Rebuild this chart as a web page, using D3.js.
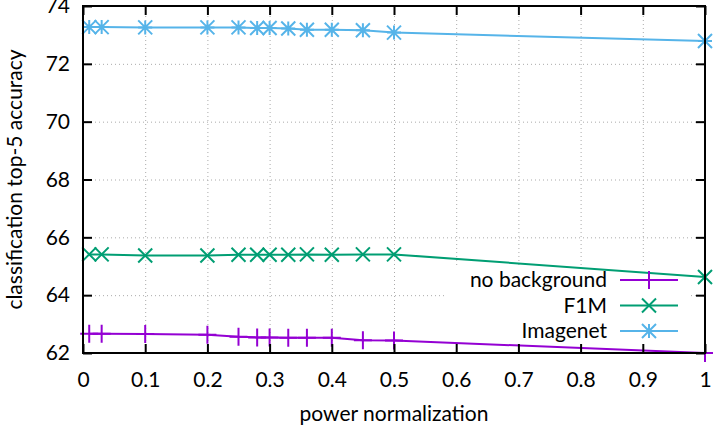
<!DOCTYPE html>
<html>
<head>
<meta charset="utf-8">
<script src="https://cdn.jsdelivr.net/npm/d3@7/dist/d3.min.js"></script>
<style>
  body { margin: 0; background: #fff; }
  svg { display: block; }
  text { font-family: Lato, "Noto Sans", sans-serif; fill: #000; }
</style>
</head>
<body>
<div id="chart"></div>
<script>
// power normalization values (x)
const xValues = [0.01, 0.03, 0.1, 0.2, 0.25, 0.28, 0.3, 0.33, 0.36, 0.4, 0.45, 0.5, 1];

// accuracy per series
const noBackground = [62.67, 62.67, 62.66, 62.63, 62.56, 62.54, 62.54, 62.53, 62.53, 62.53, 62.44, 62.43, 62.0];
const f1m = [65.41, 65.41, 65.37, 65.37, 65.40, 65.40, 65.40, 65.40, 65.41, 65.40, 65.41, 65.41, 64.63];
const imagenet = [73.27, 73.27, 73.26, 73.26, 73.26, 73.24, 73.24, 73.22, 73.18, 73.18, 73.16, 73.08, 72.79];

const xTicks = [0, 0.1, 0.2, 0.3, 0.4, 0.5, 0.6, 0.7, 0.8, 0.9, 1];
const yTicks = [62, 64, 66, 68, 70, 72, 74];

const seriesNames = ['no background', 'F1M', 'Imagenet'];
const seriesColors = ['#9400d3', '#009e73', '#56b4e9'];
const seriesMarkers = ['plus', 'cross', 'star'];

const width = 713, height = 430;
const margin = { top: 6, right: 8, bottom: 77, left: 83 };
const innerWidth = width - margin.left - margin.right;
const innerHeight = height - margin.top - margin.bottom;
const fontSize = '21px';

const svg = d3.select('#chart').append('svg')
    .attr('width', width)
    .attr('height', height);

const g = svg.append('g')
    .attr('transform', `translate(${margin.left},${margin.top})`);

const xScale = d3.scaleLinear().domain([0, 1]).range([0, innerWidth]);
const yScale = d3.scaleLinear().domain([62, 74]).range([innerHeight, 0]);

// grid lines (no labels)
function styleGrid(sel) {
    sel.select('.domain').remove();
    sel.selectAll('text').remove();
    sel.selectAll('line')
        .attr('stroke', '#aaa')
        .attr('stroke-width', 1)
        .attr('stroke-dasharray', '1,3');
}

g.append('g')
    .attr('class', 'grid')
    .attr('transform', `translate(0,${innerHeight})`)
    .call(d3.axisBottom(xScale).tickValues(xTicks).tickSize(-innerHeight).tickFormat(''))
    .call(styleGrid);

g.append('g')
    .attr('class', 'grid')
    .call(d3.axisLeft(yScale).tickValues(yTicks).tickSize(-innerWidth).tickFormat(''))
    .call(styleGrid);

// legend background (key box hides the grid, not the data)
const legendX = 607, legendY = 280, legendStep = 25.5;
g.append('rect')
    .attr('x', 447 - margin.left)
    .attr('y', 266 - margin.top)
    .attr('width', 244)
    .attr('height', 78)
    .attr('fill', '#fff');

// markers
function markerPath(type, s) {
    const p = d3.path();
    if (type === 'plus' || type === 'star') {
        p.moveTo(-s, 0); p.lineTo(s, 0);
        p.moveTo(0, -s); p.lineTo(0, s);
    }
    if (type === 'cross' || type === 'star') {
        p.moveTo(-s, -s); p.lineTo(s, s);
        p.moveTo(-s, s); p.lineTo(s, -s);
    }
    return p.toString();
}

const allSeries = [noBackground, f1m, imagenet];

const line = d3.line()
    .x(d => xScale(d.x))
    .y(d => yScale(d.y));

allSeries.forEach((vals, i) => {
    const pts = xValues.map((x, j) => ({ x: x, y: vals[j] }));
    g.append('path')
        .datum(pts)
        .attr('fill', 'none')
        .attr('stroke', seriesColors[i])
        .attr('stroke-width', 2)
        .attr('d', line);

    g.selectAll(`.mk${i}`)
        .data(pts)
        .enter()
        .append('path')
        .attr('class', `mk${i}`)
        .attr('transform', d => `translate(${xScale(d.x)},${yScale(d.y)})`)
        .attr('d', markerPath(seriesMarkers[i], seriesMarkers[i] === 'plus' ? 9 : 7))
        .attr('fill', 'none')
        .attr('stroke', seriesColors[i])
        .attr('stroke-width', 2);
});

// legend
seriesNames.forEach((name, i) => {
    const y = legendY + i * legendStep;
    svg.append('text')
        .attr('x', legendX)
        .attr('y', y)
        .attr('dy', '0.35em')
        .attr('text-anchor', 'end')
        .style('font-size', fontSize)
        .text(name);
    svg.append('line')
        .attr('x1', 620).attr('x2', 678)
        .attr('y1', y).attr('y2', y)
        .attr('stroke', seriesColors[i])
        .attr('stroke-width', 2);
    svg.append('path')
        .attr('transform', `translate(649,${y})`)
        .attr('d', markerPath(seriesMarkers[i], seriesMarkers[i] === 'plus' ? 9 : 7))
        .attr('fill', 'none')
        .attr('stroke', seriesColors[i])
        .attr('stroke-width', 2);
});

// axes with inward ticks on all four sides
function styleAxis(sel) {
    sel.select('.domain').remove();
    sel.selectAll('line').attr('stroke', '#000').attr('stroke-width', 2);
    sel.selectAll('text').style('font-size', fontSize);
}

function styleMirror(sel) {
    styleAxis(sel);
    sel.selectAll('text').remove();
}

g.append('g')
    .attr('transform', `translate(0,${innerHeight})`)
    .call(d3.axisBottom(xScale).tickValues(xTicks).tickSize(-9).tickPadding(19).tickFormat(d3.format('')))
    .call(styleAxis);

g.append('g')
    .call(d3.axisTop(xScale).tickValues(xTicks).tickSize(-9).tickFormat(''))
    .call(styleMirror);

g.append('g')
    .call(d3.axisLeft(yScale).tickValues(yTicks).tickSize(-9).tickPadding(13).tickFormat(d3.format('')))
    .call(styleAxis);

g.append('g')
    .attr('transform', `translate(${innerWidth},0)`)
    .call(d3.axisRight(yScale).tickValues(yTicks).tickSize(-9).tickFormat(''))
    .call(styleMirror);

// border
g.append('rect')
    .attr('width', innerWidth)
    .attr('height', innerHeight)
    .attr('fill', 'none')
    .attr('stroke', '#000')
    .attr('stroke-width', 2);

// axis labels
svg.append('text')
    .attr('transform', `translate(22,${margin.top + innerHeight / 2}) rotate(-90)`)
    .attr('text-anchor', 'middle')
    .style('font-size', fontSize)
    .text('classification top-5 accuracy');

svg.append('text')
    .attr('x', margin.left + innerWidth / 2)
    .attr('y', 421)
    .attr('text-anchor', 'middle')
    .style('font-size', fontSize)
    .text('power normalization');
</script>
</body>
</html>
